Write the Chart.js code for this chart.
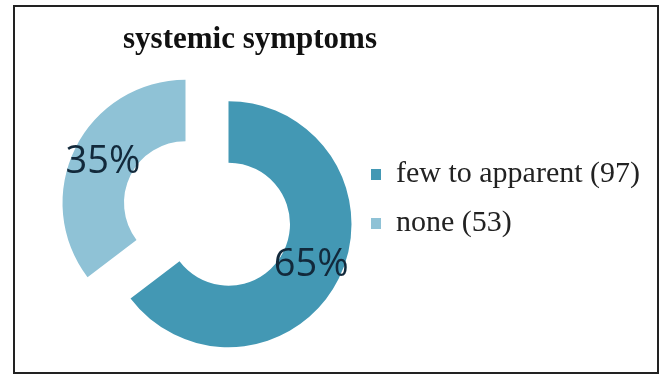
<!DOCTYPE html>
<html><head><meta charset="utf-8">
<script src="https://cdn.jsdelivr.net/npm/chart.js@4.4.0/dist/chart.umd.min.js"></script>
<style>
html,body{margin:0;padding:0;background:#fff;}
#wrap{position:relative;width:663px;height:374px;overflow:hidden;background:#fff;}
#c{position:absolute;left:0;top:0;}
#frame{position:absolute;left:13px;top:5px;width:646px;height:369px;border:2px solid #222;box-sizing:border-box;pointer-events:none;}
</style></head><body>
<div id="wrap"><canvas id="c" width="663" height="374"></canvas><div id="frame"></div></div>
<script>
// ---- data ----
const chartTitle = 'systemic symptoms';
const categories = ['few to apparent', 'none'];
const counts = [97, 53];
const sliceColors = ['#4398b4', '#8fc2d6'];

const legendLabels = categories.map((c, i) => c + ' (' + counts[i] + ')');

// shifts each slice outward along its mid-angle (exploded doughnut)
const explodePlugin = {
  id: 'explode',
  afterDatasetUpdate(chart, args, opts) {
    const d = opts.distance || 0;
    args.meta.data.forEach(arc => {
      const mid = (arc.startAngle + arc.endAngle) / 2;
      arc.x += Math.cos(mid) * d;
      arc.y += Math.sin(mid) * d;
    });
  }
};

// percentage labels at the middle of each ring slice
const sliceLabelPlugin = {
  id: 'sliceLabels',
  afterDatasetsDraw(chart, args, opts) {
    const ctx = chart.ctx;
    const meta = chart.getDatasetMeta(0);
    const data = chart.data.datasets[0].data;
    const total = data.reduce((a, b) => a + b, 0);
    ctx.save();
    ctx.font = opts.font;
    ctx.fillStyle = opts.color;
    ctx.textAlign = 'center';
    ctx.textBaseline = 'middle';
    meta.data.forEach((arc, i) => {
      const mid = (arc.startAngle + arc.endAngle) / 2;
      const r = (arc.innerRadius + arc.outerRadius) / 2;
      const pct = Math.round(data[i] / total * 100) + '%';
      ctx.fillText(pct, arc.x + Math.cos(mid) * r, arc.y + Math.sin(mid) * r);
    });
    ctx.restore();
  }
};

// chart heading, placed over the doughnut + legend block
const headingPlugin = {
  id: 'heading',
  afterDraw(chart, args, opts) {
    const ctx = chart.ctx;
    ctx.save();
    ctx.font = opts.font;
    ctx.fillStyle = opts.color;
    ctx.textAlign = 'center';
    ctx.textBaseline = 'alphabetic';
    ctx.fillText(opts.text, opts.x, opts.y);
    ctx.restore();
  }
};

const serif = '"Liberation Serif", "Times New Roman", serif';

new Chart(document.getElementById('c'), {
  type: 'doughnut',
  data: {
    labels: legendLabels,
    datasets: [{
      data: counts,
      backgroundColor: sliceColors,
      borderWidth: 0,
      hoverOffset: 0,
      clip: false
    }]
  },
  options: {
    responsive: false,
    animation: false,
    events: [],
    radius: 123,
    cutout: '50%',
    layout: { padding: { left: 62, right: 21, top: 53, bottom: 0 } },
    plugins: {
      title: { display: false },
      legend: {
        position: 'right',
        align: 'center',
        title: { display: true, text: '', font: { size: 1, lineHeight: 1 }, padding: { top: 0, bottom: -30 } },
        labels: {
          boxWidth: 10,
          boxHeight: 11,
          padding: 19,
          color: '#222',
          font: { family: serif, size: 30, lineHeight: 1 }
        }
      },
      tooltip: { enabled: false },
      explode: { distance: 24 },
      sliceLabels: { font: '38px "Open Sans", sans-serif', color: '#12293b' },
      heading: { text: chartTitle, x: 250, y: 48, font: 'bold 31px ' + serif, color: '#111' }
    }
  },
  plugins: [explodePlugin, sliceLabelPlugin, headingPlugin]
});
</script>
</body></html>
